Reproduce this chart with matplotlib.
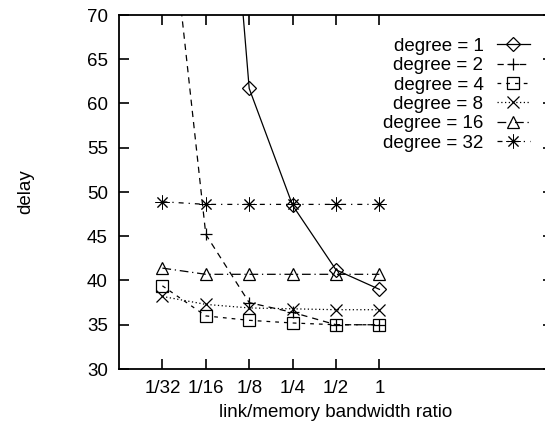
import matplotlib
matplotlib.use("Agg")
import matplotlib.pyplot as plt

plt.rcParams['font.family'] = ['Liberation Sans', 'DejaVu Sans']

ratios = [1/32, 1/16, 1/8, 1/4, 1/2, 1]
ratio_labels = ["1/32", "1/16", "1/8", "1/4", "1/2", "1"]

# delay per degree (values above 70 run off the top of the plot)
delay_deg1 = [200, 121, 61.7, 48.5, 41.2, 39.0]
delay_deg2 = [90, 45.2, 37.5, 36.4, 35.0, 35.0]
delay_deg4 = [39.4, 36.0, 35.5, 35.2, 35.0, 35.0]
delay_deg8 = [38.2, 37.3, 36.9, 36.8, 36.7, 36.7]
delay_deg16 = [41.4, 40.7, 40.7, 40.7, 40.7, 40.7]
delay_deg32 = [48.9, 48.6, 48.6, 48.6, 48.6, 48.6]

series = [
    ("degree = 1", delay_deg1, "-", "D", 7),
    ("degree = 2", delay_deg2, (0, (5, 4)), "+", 9),
    ("degree = 4", delay_deg4, (0, (3, 4)), "s", 8),
    ("degree = 8", delay_deg8, (0, (1, 2)), "x", 9),
    ("degree = 16", delay_deg16, (0, (7, 3, 1, 3)), "^", 9),
    ("degree = 32", delay_deg32, (0, (4, 4, 1, 4)), (8, 2, 0), 10),
]

fig = plt.figure(figsize=(5.45, 4.23), dpi=100)
ax = fig.add_axes([119/545, 54/423, 434/545, 354/423])

for label, vals, ls, mk, ms in series:
    mew = 0.7 if label == "degree = 32" else 0.9
    ax.plot(ratios, vals, color="black", linestyle=ls, linewidth=0.9,
            marker=mk, markersize=ms, markerfacecolor="none",
            markeredgecolor="black", markeredgewidth=mew, label=label)

ax.set_xscale("log", base=2)
ax.set_xlim(1/64, 16)
ax.set_ylim(30, 70)
ax.set_xticks(ratios)
ax.set_xticklabels(ratio_labels)
ax.minorticks_off()
ax.set_yticks(range(30, 71, 5))

ax.tick_params(direction="in", length=7, width=1.2, top=True, right=True,
               labelsize=13.5, pad=8)
for s in ax.spines.values():
    s.set_linewidth(1.3)

ax.set_xlabel("link/memory bandwidth ratio", fontsize=13.5, labelpad=5)
ax.set_ylabel("delay", fontsize=13.5, labelpad=38)

ax.legend(loc="upper right", bbox_to_anchor=(0.965, 0.957), frameon=False,
          markerfirst=False, fontsize=13.5, handlelength=1.8,
          handletextpad=0.7, labelspacing=0.12, borderaxespad=0)

fig.savefig("out.png", dpi=100)
